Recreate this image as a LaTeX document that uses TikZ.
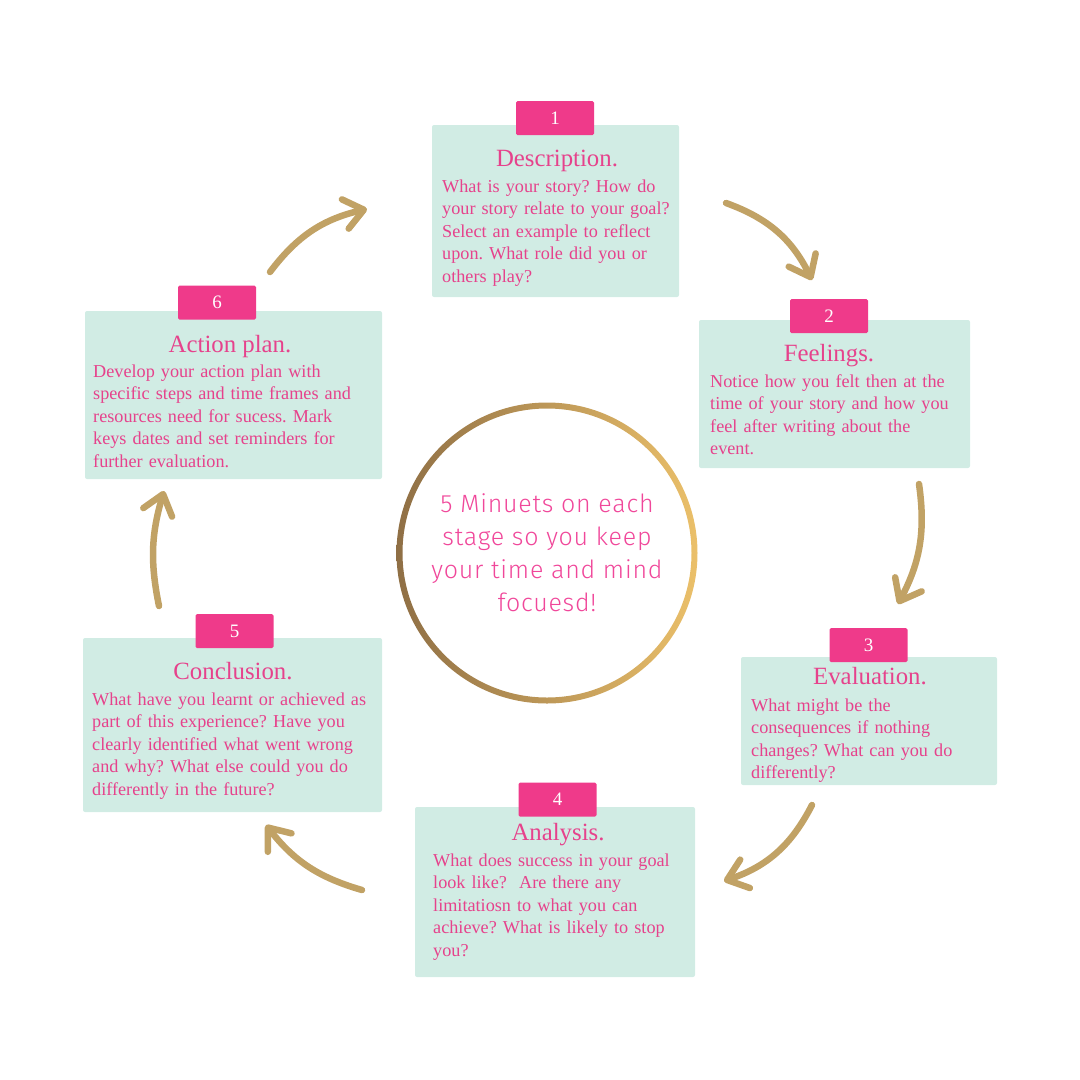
\documentclass[tikz,border=0pt]{standalone}
\usepackage{fontspec}
\setmainfont{Liberation Serif}
\newfontfamily\hubfont[LetterSpace=3]{Fira Sans Light}
\usepackage{tikz}
\usetikzlibrary{arrows.meta}
\usetikzlibrary{positioning}
\definecolor{rf-pink}{HTML}{EF3A8A}
\definecolor{rf-text}{HTML}{E6428C}
\definecolor{rf-mint}{HTML}{D1ECE4}
\definecolor{rf-gold}{HTML}{C1A265}
\definecolor{rf-gold-dark}{HTML}{8F6F45}
\definecolor{rf-gold-mid}{HTML}{C99F58}
\definecolor{rf-gold-light}{HTML}{EBC06A}
\definecolor{rf-hub}{HTML}{F0479A}
\frenchspacing

\begin{document}
\begin{tikzpicture}[x=1pt, y=-1pt, >=latex]

  % Styles for the six stages of the cycle
  \tikzset{
    stagecard/.style={fill=rf-mint, rounded corners=2pt, inner sep=0pt},
    stagetab/.style={fill=rf-pink, rounded corners=1.5pt, minimum width=78pt, minimum height=34pt, inner sep=0pt, text=white, font=\fontsize{19}{22}\selectfont},
    stagetitle/.style={anchor=base, inner sep=0pt, text=rf-text, font=\fontsize{24.8}{28}\selectfont},
    stagebody/.style={anchor=base west, inner sep=0pt, text=rf-text, text width=330pt, align=left, font=\fontsize{18.2}{22.5}\selectfont},
    goldarrow/.style={draw=rf-gold, line width=6.5pt, line cap=round, -{Straight Barb[length=19pt, width=30pt, round]}}
  }
  \useasboundingbox (0,0) rectangle (1080,1080);

  % Cards
  \node (card1) [stagecard, minimum width=247pt, minimum height=172pt] at (555.5,211) {};
  \node (card2) [stagecard, minimum width=271pt, minimum height=148pt] at (834.5,394) {};
  \node (card3) [stagecard, minimum width=256pt, minimum height=128pt] at (869,721) {};
  \node (card4) [stagecard, minimum width=280pt, minimum height=170pt] at (555,892) {};
  \node (card5) [stagecard, minimum width=299pt, minimum height=174pt] at (232.5,725) {};
  \node (card6) [stagecard, minimum width=297pt, minimum height=168pt] at (233.5,395) {};

  % Number tabs
  \node (tab1) [stagetab] at (555,118) {1};
  \node (tab2) [stagetab] at (829,316) {2};
  \node (tab3) [stagetab] at (868.5,645) {3};
  \node (tab4) [stagetab] at (557.5,799.5) {4};
  \node (tab5) [stagetab] at (234.5,631) {5};
  \node (tab6) [stagetab] at (217,302.5) {6};

  % Titles
  \node (title1) [stagetitle] at (557,166) {Description.};
  \node (title2) [stagetitle] at (829,361) {Feelings.};
  \node (title3) [stagetitle] at (870,684) {Evaluation.};
  \node (title4) [stagetitle] at (558,840) {Analysis.};
  \node (title5) [stagetitle] at (233,679) {Conclusion.};
  \node (title6) [stagetitle] at (230,352) {Action plan.};

  % Questions
  \node (text1) [stagebody] at (442,192) {What is your story? How do\\ your story relate to your goal?\\ Select an example to reflect\\ upon. What role did you or\\ others play?};
  \node (text2) [stagebody] at (710,387) {Notice how you felt then at the\\ time of your story and how you\\ feel after writing about the\\ event.};
  \node (text3) [stagebody] at (751,711) {What might be the\\ consequences if nothing\\ changes? What can you do\\ differently?};
  \node (text4) [stagebody] at (433,866) {What does success in your goal\\ look like?~ Are there any\\ limitatiosn to what you can\\ achieve? What is likely to stop\\ you?};
  \node (text5) [stagebody] at (92,705) {What have you learnt or achieved as\\ part of this experience? Have you\\ clearly identified what went wrong\\ and why? What else could you do\\ differently in the future?};
  \node (text6) [stagebody] at (93,377) {Develop your action plan with\\ specific steps and time frames and\\ resources need for sucess. Mark\\ keys dates and set reminders for\\ further evaluation.};

  % Centre ring
  \node (hub) [circle, minimum size=300pt, inner sep=0pt, align=center, text=rf-hub, font=\hubfont\fontsize{25}{33}\selectfont] at (547,553)
      {5 Minuets on each\\ stage so you keep\\ your time and mind\\ focuesd!};
  \shade[even odd rule, left color=rf-gold-dark, middle color=rf-gold-mid, right color=rf-gold-light]
      (hub.center) circle (150.5pt) (hub.center) circle (144.5pt);

  % Arrows between the stages
  \coordinate (a1s) at (726,203);  \coordinate (a1e) at (812,280);
  \coordinate (a2s) at (919,484);  \coordinate (a2e) at (898,604);
  \coordinate (a3s) at (812,805);  \coordinate (a3e) at (724,881);
  \coordinate (a4s) at (362,890);  \coordinate (a4e) at (266,825);
  \coordinate (a5s) at (159,606);  \coordinate (a5e) at (164,491);
  \coordinate (a6s) at (270,272);  \coordinate (a6e) at (367,209);

  \draw[goldarrow] (a1s) to[bend left=22] (a1e);
  \draw[goldarrow] (a2s) to[bend left=18] (a2e);
  \draw[goldarrow] (a3s) to[bend left=22] (a3e);
  \draw[goldarrow] (a4s) to[bend left=18] (a4e);
  \draw[goldarrow] (a5s) to[bend left=14] (a5e);
  \draw[goldarrow] (a6s) to[bend left=20] (a6e);

\end{tikzpicture}
\end{document}
